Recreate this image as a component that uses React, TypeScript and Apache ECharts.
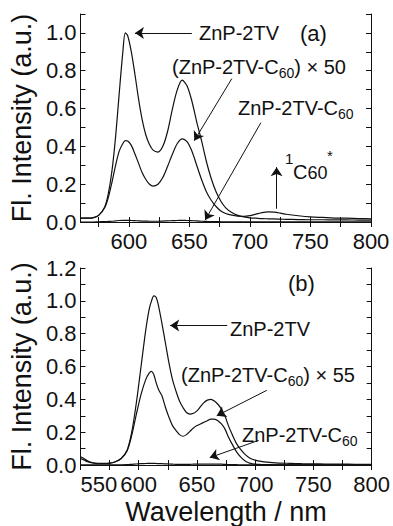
import React, { useEffect, useRef } from "react";
import * as echarts from "echarts";

// ---------- Panel (a) data ----------
const aWave = [560, 565, 570, 575, 580, 583, 586, 589, 592, 595, 597, 599, 602, 605, 608, 611, 614, 617, 620, 624, 628, 632, 636, 640, 644, 648, 652, 656, 660, 664, 668, 672, 676, 680, 685, 690, 695, 700, 705, 710, 715, 720, 725, 730, 740, 750, 760, 770, 780, 790, 800];
const aZnP = [0.02, 0.02, 0.022, 0.035, 0.08, 0.15, 0.27, 0.45, 0.68, 0.9, 1.0, 0.985, 0.9, 0.78, 0.65, 0.54, 0.46, 0.41, 0.38, 0.37, 0.4, 0.48, 0.6, 0.7, 0.75, 0.72, 0.64, 0.53, 0.43, 0.32, 0.23, 0.16, 0.11, 0.075, 0.05, 0.035, 0.027, 0.022, 0.02, 0.018, 0.017, 0.016, 0.015, 0.014, 0.013, 0.012, 0.012, 0.011, 0.011, 0.01, 0.01];
const aDyadX50 = [0.02, 0.02, 0.022, 0.035, 0.075, 0.13, 0.21, 0.3, 0.375, 0.415, 0.43, 0.428, 0.405, 0.36, 0.31, 0.26, 0.225, 0.2, 0.19, 0.2, 0.235, 0.295, 0.36, 0.415, 0.44, 0.425, 0.375, 0.3, 0.225, 0.16, 0.115, 0.082, 0.058, 0.045, 0.036, 0.031, 0.03, 0.034, 0.042, 0.05, 0.054, 0.052, 0.047, 0.041, 0.033, 0.027, 0.024, 0.021, 0.02, 0.018, 0.017];
const aDyad = [0, 0, 0, 0.001, 0.002, 0.003, 0.004, 0.006, 0.008, 0.009, 0.009, 0.009, 0.008, 0.007, 0.006, 0.005, 0.005, 0.004, 0.004, 0.004, 0.005, 0.006, 0.007, 0.008, 0.009, 0.008, 0.007, 0.006, 0.004, 0.003, 0.002, 0.002, 0.001, 0.001, 0.001, 0.001, 0.001, 0.001, 0.001, 0.001, 0.001, 0.001, 0.001, 0.001, 0.001, 0.001, 0.001, 0.001, 0.001, 0.001, 0.001];
const aTickValues = [575, 600, 625, 650, 675, 700, 725, 750, 775, 800];
const aLabelValues = [600, 650, 700, 750, 800];

// ---------- Panel (b) data ----------
const bWave = [550, 553, 556, 560, 565, 570, 575, 580, 585, 590, 594, 598, 602, 606, 609, 611, 613, 615, 617, 620, 623, 626, 629, 632, 635, 638, 641, 644, 647, 650, 653, 656, 659, 662, 665, 668, 671, 674, 677, 680, 684, 688, 692, 696, 700, 705, 710, 720, 730, 740, 750, 760, 770, 780, 790, 800];
const bZnP = [0.05, 0.04, 0.025, 0.015, 0.01, 0.01, 0.012, 0.02, 0.04, 0.09, 0.2, 0.38, 0.6, 0.82, 0.95, 1.0, 1.03, 1.02, 0.97, 0.86, 0.74, 0.62, 0.52, 0.45, 0.39, 0.35, 0.32, 0.31, 0.315, 0.33, 0.355, 0.38, 0.395, 0.4, 0.39, 0.37, 0.34, 0.3, 0.24, 0.19, 0.13, 0.09, 0.06, 0.04, 0.03, 0.022, 0.017, 0.012, 0.01, 0.008, 0.007, 0.006, 0.005, 0.005, 0.004, 0.004];
const bDyadX55 = [0.04, 0.03, 0.02, 0.012, 0.008, 0.008, 0.01, 0.02, 0.04, 0.085, 0.18, 0.31, 0.43, 0.52, 0.56, 0.57, 0.55, 0.5, 0.46, 0.42, 0.35, 0.29, 0.24, 0.21, 0.185, 0.175, 0.185, 0.205, 0.225, 0.24, 0.25, 0.26, 0.27, 0.28, 0.28, 0.27, 0.25, 0.22, 0.17, 0.13, 0.08, 0.045, 0.022, 0.01, 0.005, 0.003, 0.002, 0.001, 0.001, 0.001, 0.001, 0.001, 0.001, 0.001, 0.001, 0.001];
const bDyad = [0.001, 0.001, 0.001, 0.001, 0.001, 0.001, 0.001, 0.001, 0.001, 0.002, 0.004, 0.006, 0.008, 0.009, 0.01, 0.01, 0.01, 0.009, 0.008, 0.008, 0.007, 0.006, 0.005, 0.004, 0.004, 0.004, 0.004, 0.004, 0.005, 0.005, 0.005, 0.005, 0.005, 0.005, 0.005, 0.005, 0.005, 0.004, 0.003, 0.003, 0.002, 0.001, 0.001, 0.001, 0.001, 0.001, 0.001, 0.001, 0.001, 0.001, 0.001, 0.001, 0.001, 0.001, 0.001, 0.001];

// ---------- Annotation arrows (data coordinates: [from], [to]) ----------
const aArrows = [
  [[652, 1.0], [605, 1.0]],
  [[685, 0.758], [654, 0.43]],
  [[709, 0.525], [663, 0.01]],
  [[722, 0.07], [722, 0.29]],
];
const bArrows = [
  [[676, 0.85], [627, 0.85]],
  [[710, 0.455], [667, 0.3]],
  [[703, 0.15], [661, 0.045]],
];

const FONT = "'Liberation Sans', Arial, Helvetica, sans-serif";
const BLACK = "#111";

const pair = (xs: number[], ys: number[]) => xs.map((x, i) => [x, ys[i]]);

function curve(data: number[][], xi: number, yi: number, arrows?: number[][][]) {
  const s: any = {
    type: "line",
    xAxisIndex: xi,
    yAxisIndex: yi,
    data,
    showSymbol: false,
    symbol: "none",
    smooth: 0.3,
    silent: true,
    lineStyle: { color: BLACK, width: 1.2 },
    emphasis: { disabled: true },
  };
  if (arrows) {
    s.markLine = {
      silent: true,
      symbol: ["none", "arrow"],
      symbolSize: 9,
      label: { show: false },
      emphasis: { disabled: true },
      lineStyle: { color: BLACK, width: 1, type: "solid" },
      data: arrows.map((a) => [{ coord: a[0] }, { coord: a[1] }]),
    };
  }
  return s;
}

const axisLine = { show: true, lineStyle: { color: BLACK, width: 1 } };
const tickStyle = { inside: true, length: 5, lineStyle: { color: BLACK, width: 1 } };
const labelStyle = { color: BLACK, fontSize: 22, lineHeight: 16, fontFamily: FONT };
const evenTenth = (v: number) => (Math.round(v * 10) % 2 === 0 ? v.toFixed(1) : "");

const subRich = {
  s: { fontSize: 14, lineHeight: 13, verticalAlign: "bottom", fontFamily: FONT, fill: BLACK },
};

function label(text: string, x: number, y: number, size = 20) {
  return {
    type: "text",
    x,
    y,
    silent: true,
    style: {
      text,
      fontSize: size,
      fontFamily: FONT,
      fill: BLACK,
      lineHeight: 26,
      align: "left",
      verticalAlign: "middle",
      rich: subRich,
    },
  };
}

const yName = { color: BLACK, fontSize: 27, fontFamily: FONT };

export default function App() {
  const ref = useRef<HTMLDivElement>(null);
  useEffect(() => {
    if (!ref.current) return;
    const chart = echarts.init(ref.current, null, { renderer: "svg" });
    const option: any = {
      animation: false,
      backgroundColor: "#fff",
      grid: [
        { left: 77, top: 14, width: 294, height: 208 },
        { left: 78, top: 268, width: 294, height: 204 },
      ],
      xAxis: [
        {
          gridIndex: 0, type: "value", position: "bottom", min: 560, max: 800,
          axisLine, splitLine: { show: false },
          axisTick: { ...tickStyle, customValues: aTickValues },
          axisLabel: { ...labelStyle, margin: 11, customValues: aLabelValues },
        },
        {
          gridIndex: 0, type: "value", position: "top", min: 560, max: 800,
          axisLine, splitLine: { show: false },
          axisTick: { ...tickStyle, customValues: aTickValues },
          axisLabel: { show: false },
        },
        {
          gridIndex: 1, type: "value", position: "bottom", min: 550, max: 800, interval: 25,
          axisLine, splitLine: { show: false },
          axisTick: tickStyle,
          axisLabel: {
            ...labelStyle, margin: 11, alignMinLabel: "left",
            formatter: (v: number) => (v % 50 === 0 ? String(v) : ""),
          },
          name: "Wavelength / nm",
          nameLocation: "middle",
          nameGap: 33,
          nameTextStyle: { color: BLACK, fontSize: 27, fontFamily: FONT },
        },
        {
          gridIndex: 1, type: "value", position: "top", min: 550, max: 800, interval: 25,
          axisLine, splitLine: { show: false },
          axisTick: tickStyle,
          axisLabel: { show: false },
        },
      ],
      yAxis: [
        {
          gridIndex: 0, type: "value", position: "left", min: 0, max: 1.1, interval: 0.1,
          axisLine, splitLine: { show: false }, axisTick: tickStyle,
          axisLabel: { ...labelStyle, margin: 4, formatter: evenTenth },
          name: "Fl. Intensity (a.u.)",
          nameLocation: "middle",
          nameGap: 42,
          nameTextStyle: yName,
        },
        {
          gridIndex: 0, type: "value", position: "right", min: 0, max: 1.1, interval: 0.1,
          axisLine, splitLine: { show: false }, axisTick: tickStyle, axisLabel: { show: false },
        },
        {
          gridIndex: 1, type: "value", position: "left", min: 0, max: 1.2, interval: 0.1,
          axisLine, splitLine: { show: false }, axisTick: tickStyle,
          axisLabel: { ...labelStyle, margin: 4, formatter: evenTenth },
          name: "Fl. Intensity (a.u.)",
          nameLocation: "middle",
          nameGap: 42,
          nameTextStyle: yName,
        },
        {
          gridIndex: 1, type: "value", position: "right", min: 0, max: 1.2, interval: 0.1,
          axisLine, splitLine: { show: false }, axisTick: tickStyle, axisLabel: { show: false },
        },
      ],
      series: [
        curve(pair(aWave, aZnP), 0, 0),
        curve(pair(aWave, aDyadX50), 0, 0),
        curve(pair(aWave, aDyad), 0, 0, aArrows),
        curve(pair(bWave, bZnP), 2, 2),
        curve(pair(bWave, bDyadX55), 2, 2),
        curve(pair(bWave, bDyad), 2, 2, bArrows),
      ],
      graphic: [
        label("ZnP-2TV", 199, 33),
        label("(a)", 300, 33, 22),
        label("(ZnP-2TV-C{s|60}) × 50", 172, 67),
        label("ZnP-2TV-C{s|60}", 238, 108),
        label("1", 285, 158, 15),
        {
          type: "text", x: 293, y: 172, silent: true,
          style: {
            text: "C{q|60}", fontSize: 20, lineHeight: 20, fontFamily: FONT, fill: BLACK,
            align: "left", verticalAlign: "middle",
            rich: { q: { fontSize: 18, lineHeight: 14, verticalAlign: "bottom", fontFamily: FONT, fill: BLACK } },
          },
        },
        label("*", 327, 155, 15),
        label("(b)", 288, 283, 22),
        label("ZnP-2TV", 230, 329),
        label("(ZnP-2TV-C{s|60}) × 55", 181, 375),
        label("ZnP-2TV-C{s|60}", 242, 435),
      ],
    };
    chart.setOption(option);
    return () => chart.dispose();
  }, []);
  return (
    <div
      ref={ref}
      style={{ position: "absolute", left: 0, top: 0, width: 393, height: 526, background: "#fff" }}
    />
  );
}
